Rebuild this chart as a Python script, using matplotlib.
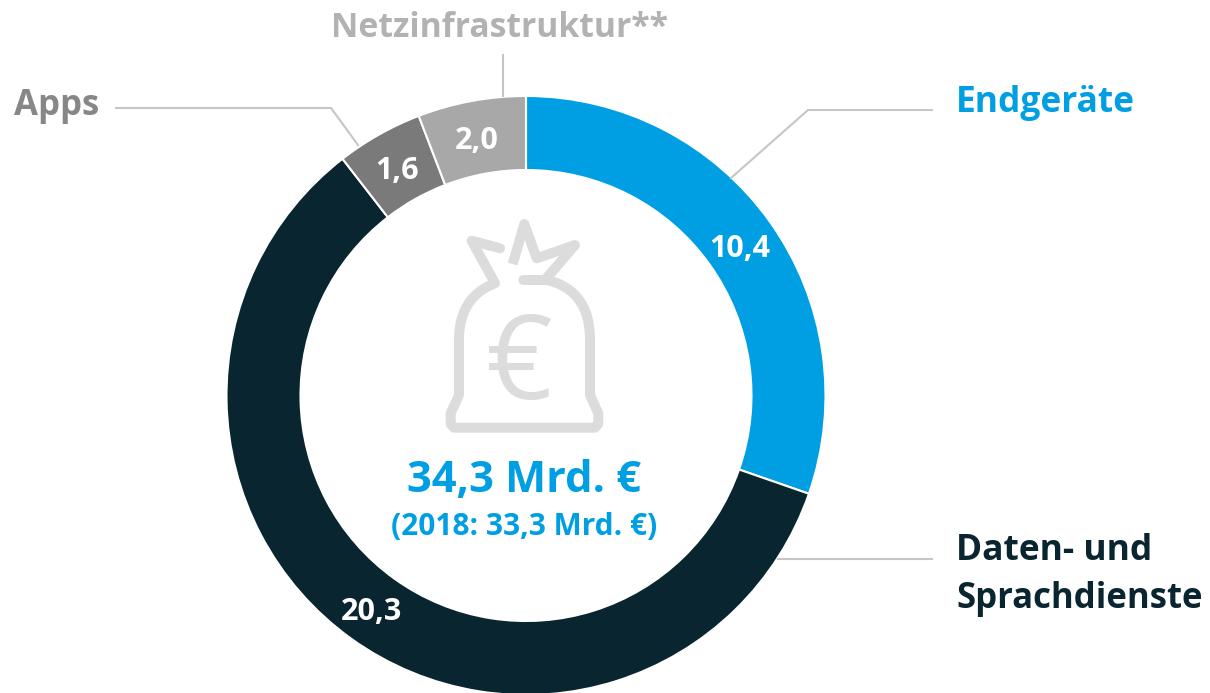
import numpy as np
import matplotlib
matplotlib.use("Agg")
import matplotlib.pyplot as plt

labels = ["Endgeräte", "Daten- und\nSprachdienste", "Apps", "Netzinfrastruktur**"]
values = [10.4, 20.3, 1.6, 2.0]
value_labels = ["10,4", "20,3", "1,6", "2,0"]
colors = ["#009fe3", "#09252f", "#7a7a7a", "#a8a8a8"]
label_colors = ["#009fe3", "#09252f", "#878787", "#b2b2b2"]
total_label = "34,3 Mrd. €"
prev_label = "(2018: 33,3 Mrd. €)"

W, H = 1210, 693
fig = plt.figure(figsize=(W / 100, H / 100), dpi=100)
FONT = "Open Sans"
cx, cy, R = 526, 395.5, 299.5
ax2 = fig.add_axes([(cx - R) / W, 1 - (cy + R) / H, 2 * R / W, 2 * R / H])
ax2.pie(values, colors=colors, startangle=90, counterclock=False, radius=1,
        wedgeprops=dict(width=74 / R, edgecolor="white", linewidth=1.5))
ax2.set_xlim(-1, 1)
ax2.set_ylim(-1, 1)
ax2.set_aspect("equal")

ax = fig.add_axes([0, 0, 1, 1], zorder=5)
ax.set_xlim(0, W)
ax.set_ylim(H, 0)
ax.axis("off")

# leader lines
lc = "#c6c6c6"
ax.plot([731, 808, 932], [178, 110, 110], color=lc, lw=1.5)
ax.plot([778, 932], [559, 559], color=lc, lw=1.5)
ax.plot([358, 331, 116], [145, 108, 108], color=lc, lw=1.5)
ax.plot([503, 503], [96, 55], color=lc, lw=1.5)

# outer labels
bold = dict(fontweight="bold", family=FONT, va="center")
ax.text(956, 103, labels[0], color=label_colors[0], fontsize=25.5, ha="left", **bold)
ax.text(956, 551, "Daten- und", color=label_colors[1], fontsize=25.5, ha="left", **bold)
ax.text(956, 599, "Sprachdienste", color=label_colors[1], fontsize=25, ha="left", **bold)
ax.text(99, 106, labels[2], color=label_colors[2], fontsize=25, ha="right", **bold)
ax.text(500, 28, labels[3], color=label_colors[3], fontsize=24.3, ha="center", **bold)

# values
pos = [(740, 249), (371, 612), (397, 171), (477, 141)]
for (x, y), t in zip(pos, value_labels):
    ax.text(x, y, t, color="white", fontsize=22, fontweight="bold", family=FONT, ha="center", va="center")

ax.text(524, 481, total_label, color="#009fe3", fontsize=31.3, ha="center", **bold)
ax.text(524, 527, prev_label, color="#009fe3", fontsize=21.5, ha="center", **bold)

# money bag icon
g = "#dcdcdc"
body_x = [500, 471.7, 495]
body_y = [248.3, 240.7, 283.3]
t = np.linspace(0, 1, 30)
# shoulders
lx = (1-t)**2 * 495 + 2*t*(1-t) * 459 + t**2 * 459
ly = (1-t)**2 * 283.3 + 2*t*(1-t) * 297 + t**2 * 340
rx = (1-t)**2 * 590 + 2*t*(1-t) * 590 + t**2 * 546.7
ry = (1-t)**2 * 340 + 2*t*(1-t) * 290 + t**2 * 280
xs = body_x + list(lx) + [459, 450.7, 450.7, 454, 595, 598.3, 598.3, 590] + list(rx) + [523.3]
ys = body_y + list(ly) + [395, 413.3, 424, 427.7, 427.7, 424, 413.3, 395] + list(ry) + [280]
ax.plot(xs, ys, color=g, lw=7.2, solid_joinstyle="round", solid_capstyle="round")
ax.plot([546.7, 575, 536.7, 524.3, 512.7], [278, 245, 258.3, 224, 264], color=g, lw=7.2,
        solid_joinstyle="round", solid_capstyle="butt")
ax.text(519, 369, "€", color=g, fontsize=84, family=FONT, ha="center", va="center")

fig.savefig("out.png", dpi=100)
